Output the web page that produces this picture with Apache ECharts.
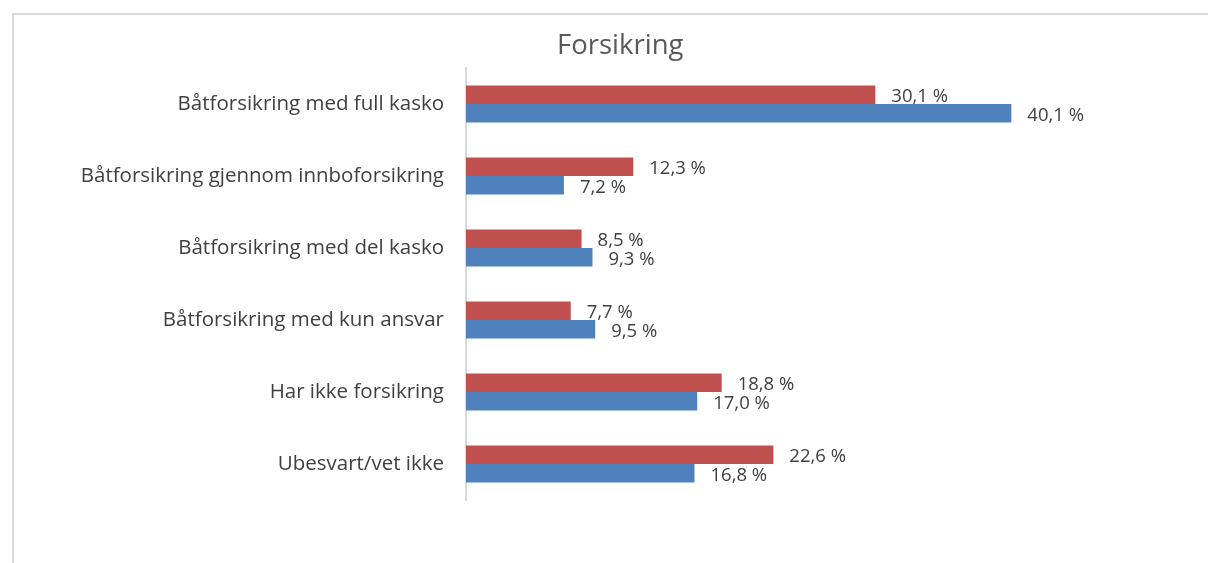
<!DOCTYPE html>
<html>
<head>
<meta charset="utf-8">
<script src="https://cdn.jsdelivr.net/npm/echarts@6/dist/echarts.min.js"></script>
<style>
  html, body { margin: 0; padding: 0; background: #fff; }
  #frame { position: absolute; left: 12px; top: 13px; width: 1300px; height: 700px;
           border-top: 2px solid #d9d9d9; border-left: 2px solid #d9d9d9; }
  #chart { position: absolute; left: 0; top: 0; width: 1208px; height: 563px; }
</style>
</head>
<body>
<div id="frame"></div>
<div id="chart"></div>
<script>
// categories top to bottom
const categories = [
  'Båtforsikring med full kasko',
  'Båtforsikring gjennom innboforsikring',
  'Båtforsikring med del kasko',
  'Båtforsikring med kun ansvar',
  'Har ikke forsikring',
  'Ubesvart/vet ikke'
];
const redValues = [30.1, 12.3, 8.5, 7.7, 18.8, 22.6];
const blueValues = [40.1, 7.2, 9.3, 9.5, 17.0, 16.8];

const chart = echarts.init(document.getElementById('chart'));

const fmt = p => p.value.toFixed(1).replace('.', ',') + ' %';

const labelStyle = {
  show: true,
  position: 'right',
  distance: 16,
  offset: [0, 2],
  color: '#404040',
  fontSize: 18.5,
  fontFamily: 'Open Sans',
  formatter: fmt
};

chart.setOption({
  animation: false,
  title: {
    text: 'Forsikring',
    left: 552,
    top: 27,
    textStyle: { color: '#595959', fontSize: 27.5, fontWeight: 'normal', fontFamily: 'Open Sans' }
  },
  grid: { left: 466, top: 68, width: 612, height: 432 },
  xAxis: {
    type: 'value',
    min: 0,
    max: 45,
    show: false
  },
  yAxis: {
    type: 'category',
    data: categories,
    inverse: true,
    axisLine: { lineStyle: { color: '#d9d9d9', width: 2 } },
    axisTick: { show: false },
    axisLabel: { color: '#404040', fontSize: 20.5, fontFamily: 'Open Sans', margin: 22 }
  },
  series: [
    {
      name: 'red',
      type: 'bar',
      data: redValues,
      barWidth: 18.5,
      barGap: '0%',
      itemStyle: { color: '#C0504D' },
      label: labelStyle
    },
    {
      name: 'blue',
      type: 'bar',
      data: blueValues,
      barWidth: 18.5,
      barGap: '0%',
      itemStyle: { color: '#4F81BD' },
      label: labelStyle
    }
  ]
});
</script>
</body>
</html>
